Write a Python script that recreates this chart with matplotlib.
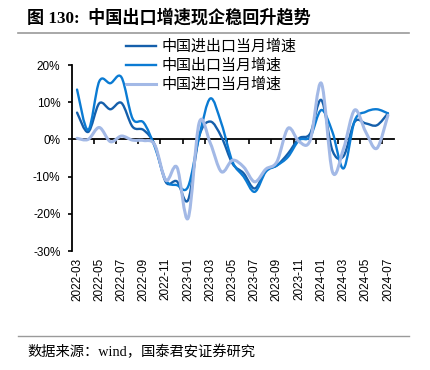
import numpy as np
import matplotlib
matplotlib.use('Agg')
from matplotlib import pyplot as plt
from matplotlib.path import Path
from matplotlib.patches import PathPatch
from matplotlib.lines import Line2D

# monthly labels, 2022-03 .. 2024-07
months = ['2022-03', '2022-04', '2022-05', '2022-06', '2022-07', '2022-08', '2022-09',
          '2022-10', '2022-11', '2022-12', '2023-01', '2023-02', '2023-03', '2023-04',
          '2023-05', '2023-06', '2023-07', '2023-08', '2023-09', '2023-10', '2023-11',
          '2023-12', '2024-01', '2024-02', '2024-03', '2024-04', '2024-05', '2024-06',
          '2024-07']

# yoy growth in %
total_growth = [7.2, 2.0, 9.7, 8.1, 9.8, 3.4, 2.5, -1.5, -11.5, -11.3, -16.3, 0.8, 4.8,
                0.7, -6.5, -9.1, -13.2, -8.3, -7.0, -3.8, 0.3, 1.6, 10.6, -3.0, -4.5,
                4.7, 4.3, 3.8, 7.0]
export_growth = [13.4, 2.5, 15.6, 15.1, 16.7, 5.6, 4.5, -2.0, -11.0, -12.3, -12.7, 0.8, 11.0,
                 4.3, -6.0, -10.0, -14.1, -8.7, -7.0, -4.7, -0.2, 0.7, 7.9, 2.0, -7.8,
                 5.0, 7.4, 8.1, 7.0]
import_growth = [0.3, 0.0, 3.2, -0.6, 0.9, -0.2, -0.3, -1.5, -11.0, -7.5, -21.2, 4.5, -1.0,
                 -8.7, -5.6, -7.4, -11.4, -8.0, -6.0, 3.0, -0.6, -0.2, 15.1, -8.7, -2.5,
                 7.9, 2.0, -2.4, 6.5]

series_names = ['中国进出口当月增速', '中国出口当月增速', '中国进口当月增速']
series_colors = ['#155fab', '#0b7bd3', '#a3b9e6']

CJK = 'Noto Sans CJK SC'


def smooth_path(y):
  """ Bezier path through the monthly points (smoothed line style) """
  p = np.column_stack((np.arange(len(y), dtype=float), np.asarray(y, dtype=float)))
  n = len(p)
  verts = [p[0]]
  codes = [Path.MOVETO]
  for i in range(n - 1):
    prev = p[max(i - 1, 0)]
    nxt = p[min(i + 2, n - 1)]
    verts += [p[i] + (p[i + 1] - prev) / 6, p[i + 1] - (nxt - p[i]) / 6, p[i + 1]]
    codes += [Path.CURVE4] * 3
  return Path(verts, codes)


fig = plt.figure(figsize=(4.3, 3.7), dpi=100)
ax = fig.add_axes([71.5 / 430, 1 - 251 / 370, 322 / 430, 186 / 370])

ymin, ymax = -30, 20
ax.set_xlim(-0.5, len(months) - 0.5)
ax.set_ylim(ymin, ymax)

# the three series
handles = []
for vals, color, lw in zip([total_growth, export_growth, import_growth], series_colors, [1.7, 1.7, 2.2]):
  ax.add_patch(PathPatch(smooth_path(vals), fill=False, edgecolor=color, lw=lw,
                         capstyle='round', joinstyle='round', zorder=3))
  handles.append(Line2D([], [], color=color, lw=lw))

# y axis
yt = np.arange(ymin, ymax + 1, 10)
ax.set_yticks(yt)
ax.set_yticklabels(['%d%%' % v for v in yt], family='Liberation Sans', fontsize=8.5)
ax.tick_params(axis='y', direction='out', length=3, width=1.2, pad=5)
ax.spines['left'].set_linewidth(1.3)
for s in ['top', 'right', 'bottom']:
  ax.spines[s].set_visible(False)

# month labels at the bottom, no tick marks there
ax.set_xticks(np.arange(0, len(months), 2))
ax.set_xticklabels(months[::2], rotation=90, family='Liberation Sans', fontsize=8.5)
ax.tick_params(axis='x', length=0, pad=5)

# zero line with tick marks between categories
sec = ax.secondary_xaxis((0 - ymin) / (ymax - ymin))
sec.set_alignment('bottom')
sec.set_xticks(np.arange(1.5, len(months) - 1, 2))
sec.tick_params(axis='x', direction='out', length=3.5, width=1.2, labelbottom=False, labeltop=False)
sec.spines['bottom'].set_linewidth(1.3)

fig.legend(handles, series_names, loc='upper left', bbox_to_anchor=(126 / 430, 1 - 39.5 / 370),
           frameon=False, prop={'family': CJK, 'size': 10.8}, handlelength=2.0,
           handletextpad=0.35, labelspacing=0.3, borderpad=0, borderaxespad=0)

# title, rules and source
fig.text(27 / 430, 1 - 18 / 370, '图 130:  中国出口增速现企稳回升趋势', va='center', ha='left',
         fontsize=12.3, weight='bold', family=['Liberation Serif', CJK])
fig.add_artist(Line2D([18 / 430, 409 / 430], [1 - 33 / 370] * 2, color='#9a9a9a', lw=1.2))
fig.add_artist(Line2D([18 / 430, 409 / 430], [1 - 336 / 370] * 2, color='#9a9a9a', lw=1.0))
fig.text(27 / 430, 1 - 352 / 370, '数据来源：wind，国泰君安证券研究', va='center', ha='left',
         fontsize=10.3, family=['Liberation Serif', CJK])

fig.savefig('out.png', dpi=100)
